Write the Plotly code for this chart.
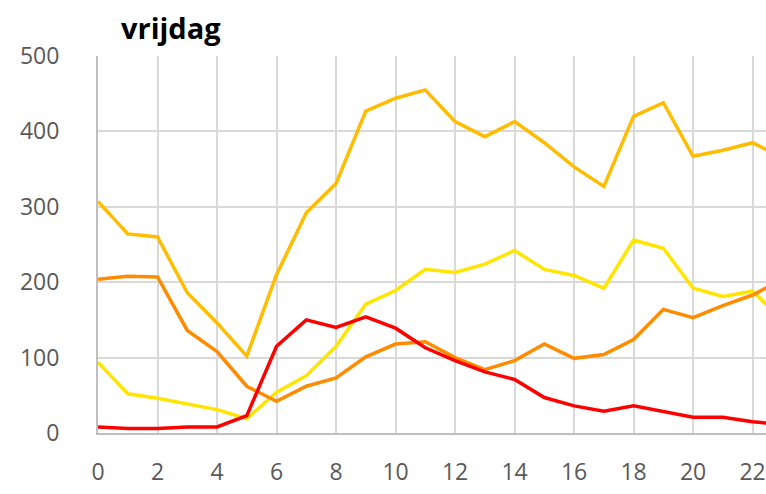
import plotly.graph_objects as go

hours = list(range(24))
gold = [307, 264, 260, 186, 146, 102, 210, 292, 331, 427, 444, 455, 413, 393, 413, 385, 353, 327, 420, 438, 367, 375, 385, 365]
yellow = [94, 52, 46, 39, 31, 19, 54, 76, 115, 171, 189, 217, 213, 224, 242, 217, 209, 192, 256, 245, 192, 181, 188, 150]
orange = [204, 208, 207, 136, 108, 62, 42, 62, 73, 101, 118, 121, 100, 84, 96, 118, 99, 104, 124, 164, 153, 169, 183, 204]
red = [8, 6, 6, 8, 8, 23, 115, 150, 140, 154, 139, 113, 96, 81, 71, 47, 36, 29, 36, 29, 21, 21, 15, 11]

x_ticks = list(range(0, 24, 2))
y_ticks = [0, 100, 200, 300, 400, 500]
title_text = "vrijdag"

series = [
    ("gold", gold, "#FFBC00"),
    ("yellow", yellow, "#FFE500"),
    ("orange", orange, "#FF8C00"),
    ("red", red, "#FF0000"),
]

fig = go.Figure()
for name, vals, col in series:
    fig.add_trace(go.Scatter(x=hours, y=vals, mode="lines", name=name,
                             line=dict(color=col, width=3.5), showlegend=False))

tickfont = dict(family="Open Sans", size=23, color="#595959")
fig.update_layout(
    width=766, height=494,
    margin=dict(l=98, r=0, t=56, b=61),
    paper_bgcolor="white", plot_bgcolor="white",
    xaxis=dict(range=[0, 22.45], tickvals=x_ticks, ticktext=[str(v) for v in x_ticks],
               showgrid=True, gridcolor="#D9D9D9", gridwidth=2,
               showline=True, linecolor="#BFBFBF", linewidth=2,
               zeroline=False, ticks="", tickfont=tickfont, ticklabelstandoff=17),
    yaxis=dict(range=[0, 500], tickvals=y_ticks, ticktext=[str(v) for v in y_ticks],
               showgrid=True, gridcolor="#D9D9D9", gridwidth=2,
               showline=True, linecolor="#BFBFBF", linewidth=2,
               zeroline=False, ticks="", tickfont=tickfont, ticklabelstandoff=32),
    annotations=[dict(text="<b>" + title_text + "</b>", xref="paper", yref="paper",
                      x=(119 - 98) / 668, y=1 + (56 - 28) / 377, xanchor="left", yanchor="middle",
                      showarrow=False, font=dict(family="Open Sans", size=29, color="#000000"))],
)

fig.write_html("out.html", config={"displayModeBar": False},
               post_script="document.body.style.margin='0';document.body.style.overflow='hidden';")
